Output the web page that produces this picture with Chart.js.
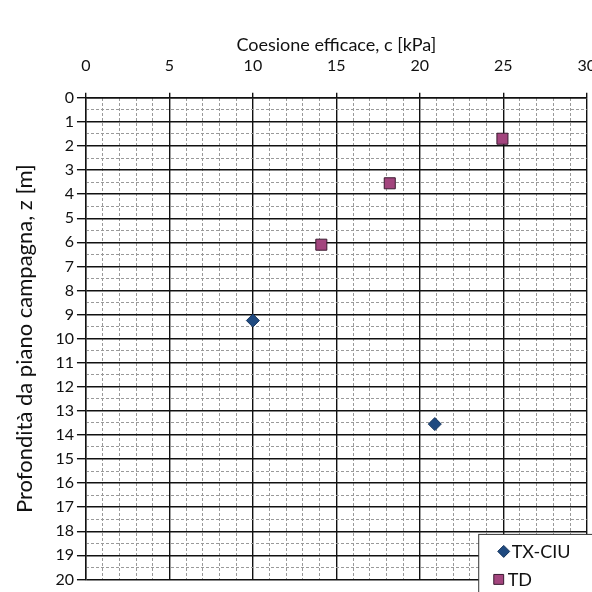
<!DOCTYPE html>
<html>
<head>
<meta charset="utf-8">
<script src="https://cdn.jsdelivr.net/npm/chart.js@4"></script>
<style>
  html, body { margin: 0; padding: 0; background: #fff; overflow: hidden; }
  #wrap { width: 613px; height: 592px; }
</style>
</head>
<body>
<div id="wrap"><canvas id="grafico"></canvas></div>
<script>
const serieNomi = ['TX-CIU', 'TD'];
const txCoesione = [10.0, 20.9];
const txProfondita = [9.25, 13.55];
const tdCoesione = [24.95, 18.2, 14.1];
const tdProfondita = [1.7, 3.55, 6.1];

const toPunti = (xs, ys) => xs.map((x, i) => ({ x: x, y: ys[i] }));
const font = 'Lato, "Open Sans", sans-serif';

Chart.defaults.font.family = font;
Chart.defaults.color = '#111';

// legenda dentro l'area del grafico, in basso a destra
const legendaInterna = {
  id: 'legendaInterna',
  afterDraw(chart) {
    const c = chart.ctx;
    const a = chart.chartArea;
    const x0 = a.right - 108, y0 = a.bottom - 45;
    c.save();
    c.fillStyle = '#fff';
    c.strokeStyle = '#333';
    c.lineWidth = 1;
    c.fillRect(x0, y0, 140, 70);
    c.strokeRect(x0, y0, 140, 70);
    c.font = '18px ' + font;
    c.textBaseline = 'middle';
    chart.data.datasets.forEach((ds, i) => {
      const yy = y0 + 17 + i * 28;
      const xx = x0 + (i === 0 ? 25 : 20);
      c.fillStyle = ds.backgroundColor;
      c.strokeStyle = ds.borderColor;
      c.lineWidth = 1;
      Chart.helpers.drawPoint(c, { pointStyle: ds.pointStyle, radius: i === 0 ? 6 : 7, borderWidth: 1 }, xx, yy);
      c.fillStyle = '#111';
      c.fillText(ds.label, xx + (i === 0 ? 8 : 9), yy + 1);
    });
    c.restore();
  }
};

new Chart(document.getElementById('grafico'), {
  type: 'scatter',
  data: {
    datasets: [
      {
        label: serieNomi[0],
        data: toPunti(txCoesione, txProfondita),
        pointStyle: 'rectRot',
        pointRadius: 6.5,
        backgroundColor: '#1f4a80',
        borderColor: '#15345c',
        borderWidth: 1
      },
      {
        label: serieNomi[1],
        data: toPunti(tdCoesione, tdProfondita),
        pointStyle: 'rect',
        pointRadius: 7.8,
        backgroundColor: '#a3457e',
        borderColor: '#3a1a30',
        borderWidth: 1
      }
    ]
  },
  options: {
    responsive: true,
    maintainAspectRatio: false,
    animation: false,
    layout: { padding: { top: 34, left: 12, bottom: 12, right: 0 } },
    plugins: { legend: { display: false }, tooltip: { enabled: false } },
    scales: {
      xMin: {
        type: 'linear', position: 'top', min: 0, max: 30,
        ticks: { display: false, stepSize: 1 },
        border: { display: false, dash: [3, 2] },
        grid: {
          drawTicks: false,
          color: (ctx) => ctx.tick.value % 5 === 0 ? 'rgba(0,0,0,0)' : '#9a9a9a',
          lineWidth: 1
        }
      },
      x: {
        type: 'linear', position: 'top', min: 0, max: 30,
        title: { display: true, text: 'Coesione efficace, c [kPa]', font: { size: 18 }, padding: { top: 0, bottom: -16 } },
        ticks: { stepSize: 5, font: { size: 16 }, padding: 17 },
        border: { display: true, color: '#111', width: 1.4 },
        grid: { color: '#111', lineWidth: 1.4, tickLength: 5, drawTicks: true }
      },
      yMin: {
        type: 'linear', position: 'left', reverse: true, min: 0, max: 20,
        ticks: { display: false, stepSize: 0.5 },
        border: { display: false, dash: [3, 2] },
        grid: {
          drawTicks: false,
          color: (ctx) => Number.isInteger(ctx.tick.value) ? 'rgba(0,0,0,0)' : '#9a9a9a',
          lineWidth: 1
        }
      },
      y: {
        type: 'linear', position: 'left', reverse: true, min: 0, max: 20,
        title: { display: true, text: 'Profondità da piano campagna, z [m]', font: { size: 22 }, padding: { top: 0, bottom: 14 } },
        ticks: { stepSize: 1, font: { size: 16 }, padding: 3 },
        border: { display: true, color: '#111', width: 1.4 },
        grid: { color: '#111', lineWidth: 1.4, tickLength: 9, drawTicks: true }
      }
    }
  },
  plugins: [legendaInterna]
});
</script>
</body>
</html>
